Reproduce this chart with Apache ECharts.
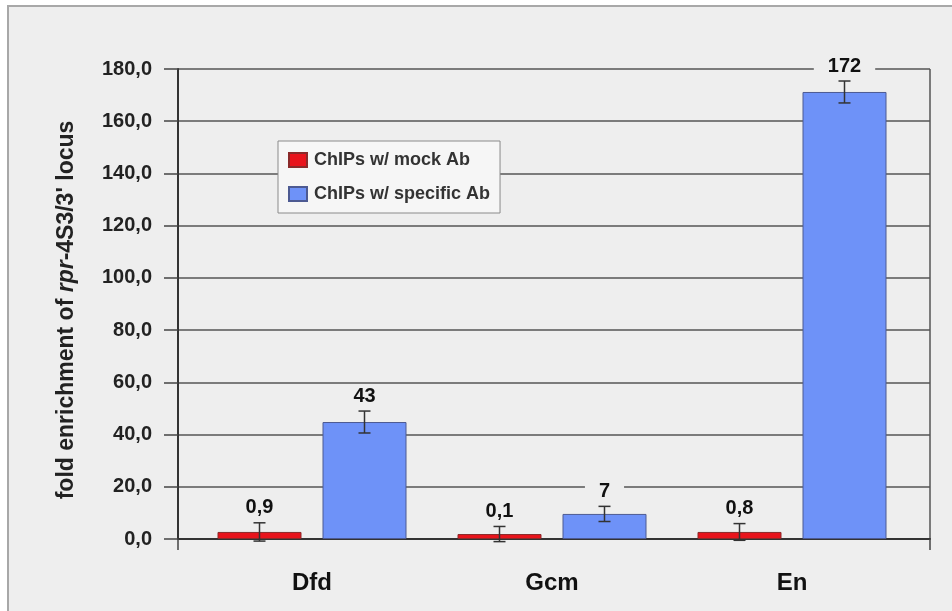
<!DOCTYPE html>
<html>
<head>
<meta charset="utf-8">
<script src="https://cdn.jsdelivr.net/npm/echarts@6/dist/echarts.min.js"></script>
<style>
  html, body { margin: 0; padding: 0; background: #fff; }
  #chart { width: 952px; height: 611px; }
</style>
</head>
<body>
<div id="chart"></div>
<script>
// 数据
const categories = ['Dfd', 'Gcm', 'En']
const seriesNames = ['ChIPs w/ mock Ab', 'ChIPs w/ specific Ab']
const mockValues = [2.7, 1.9, 2.7]
const mockErrors = [3.5, 2.9, 3.2]
const mockLabels = ['0,9', '0,1', '0,8']
const specificValues = [44.8, 9.6, 171.2]
const specificErrors = [4.2, 2.9, 4.2]
const specificLabels = ['43', '7', '172']
const yTicks = [0, 20, 40, 60, 80, 100, 120, 140, 160, 180]

const FONT = '"Liberation Sans", Arial, sans-serif'
const BAR_W = 84
const BAR_GAP = 21

// error bar + label data: [index, low, high, text]
function errData (values, errors, labels) {
  return values.map((v, i) => [i, v - errors[i], v + errors[i], labels[i]])
}

function errRender (offset) {
  return function (params, api) {
    const i = api.value(0)
    const lo = api.coord([i, api.value(1)])
    const hi = api.coord([i, api.value(2)])
    const x = lo[0] + offset
    const cap = 6
    const lineStyle = { stroke: '#333', lineWidth: 1.5 }
    return {
      type: 'group',
      children: [
        { type: 'line', shape: { x1: x, y1: hi[1], x2: x, y2: lo[1] }, style: lineStyle },
        { type: 'line', shape: { x1: x - cap, y1: hi[1], x2: x + cap, y2: hi[1] }, style: lineStyle },
        { type: 'line', shape: { x1: x - cap, y1: lo[1], x2: x + cap, y2: lo[1] }, style: lineStyle },
        {
          type: 'text',
          z2: 10,
          style: {
            text: api.value(3),
            x: x,
            y: hi[1] - 4,
            align: 'center',
            verticalAlign: 'bottom',
            font: 'bold 20px ' + FONT,
            fill: '#111',
            backgroundColor: '#eeeeee',
            padding: [1, 14, 1, 14]
          }
        }
      ]
    }
  }
}

const myChart = echarts.init(document.getElementById('chart'))
const half = (BAR_W + BAR_GAP) / 2

const option = {
  animation: false,
  backgroundColor: '#ffffff',
  graphic: [{
    type: 'rect',
    z: -10,
    shape: { x: 8, y: 6, width: 960, height: 620 },
    style: { fill: '#eeeeee', stroke: '#a8a8a8', lineWidth: 2 }
  }],
  legend: {
    orient: 'vertical',
    left: 278,
    top: 141,
    width: 220,
    height: 70,
    padding: [10, 10, 10, 10],
    itemGap: 16,
    itemWidth: 18,
    itemHeight: 14,
    backgroundColor: '#f6f6f6',
    borderColor: '#8a8a8a',
    borderWidth: 1,
    borderRadius: 0,
    icon: 'rect',
    data: seriesNames,
    textStyle: { fontFamily: FONT, fontSize: 18, fontWeight: 'bold', color: '#333', padding: [0, 0, 0, 2] }
  },
  grid: [
    { left: 178, right: 22, top: 69, height: 470 },
    { left: 192, right: 40, top: 69, height: 470 }
  ],
  xAxis: [
    {
      gridIndex: 0,
      type: 'value',
      min: 0,
      max: 1,
      interval: 1,
      axisLabel: { show: false },
      axisLine: { show: true, lineStyle: { color: '#333', width: 2 } },
      axisTick: { show: true, length: 11, lineStyle: { color: '#444', width: 1.5 } },
      splitLine: { show: true, lineStyle: { color: '#555', width: 1.5 } }
    },
    {
      gridIndex: 1,
      type: 'category',
      data: categories,
      axisLine: { show: false },
      axisTick: { show: false },
      axisLabel: { margin: 32, fontFamily: FONT, fontSize: 24, fontWeight: 'bold', color: '#111' }
    }
  ],
  yAxis: [
    {
      gridIndex: 0,
      type: 'value',
      min: yTicks[0],
      max: yTicks[yTicks.length - 1],
      interval: 20,
      name: '{a|fold enrichment of }{b|rpr}{a|-4S3/3\' locus}',
      nameLocation: 'middle',
      nameRotate: 90,
      nameGap: 100,
      nameTextStyle: {
        padding: [0, 12, 0, 0],
        rich: {
          a: { fontFamily: FONT, fontSize: 23, fontWeight: 'bold', color: '#222' },
          b: { fontFamily: FONT, fontSize: 23, fontWeight: 'bold', fontStyle: 'italic', color: '#222' }
        }
      },
      axisLine: { show: true, lineStyle: { color: '#333', width: 2 } },
      axisTick: { show: true, length: 14, lineStyle: { color: '#444', width: 1.5 } },
      axisLabel: {
        margin: 26,
        fontFamily: FONT,
        fontSize: 20,
        fontWeight: 'bold',
        color: '#222',
        formatter: v => v.toFixed(1).replace('.', ',')
      },
      splitLine: { show: true, lineStyle: { color: '#555', width: 1.5 } }
    },
    {
      gridIndex: 1,
      type: 'value',
      min: yTicks[0],
      max: yTicks[yTicks.length - 1],
      show: false,
      splitLine: { show: false }
    }
  ],
  series: [
    {
      name: seriesNames[0],
      type: 'bar',
      xAxisIndex: 1,
      yAxisIndex: 1,
      barWidth: BAR_W,
      barGap: (BAR_GAP / BAR_W * 100) + '%',
      data: mockValues,
      itemStyle: { color: '#e8141c', borderColor: '#8a2a2a', borderWidth: 1 }
    },
    {
      name: seriesNames[1],
      type: 'bar',
      xAxisIndex: 1,
      yAxisIndex: 1,
      barWidth: BAR_W,
      data: specificValues,
      itemStyle: { color: '#6e92f8', borderColor: '#4d5a92', borderWidth: 1 }
    },
    {
      type: 'custom',
      xAxisIndex: 1,
      yAxisIndex: 1,
      z: 5,
      renderItem: errRender(-half),
      data: errData(mockValues, mockErrors, mockLabels)
    },
    {
      type: 'custom',
      xAxisIndex: 1,
      yAxisIndex: 1,
      z: 5,
      renderItem: errRender(half),
      data: errData(specificValues, specificErrors, specificLabels)
    }
  ]
}

myChart.setOption(option)
</script>
</body>
</html>
